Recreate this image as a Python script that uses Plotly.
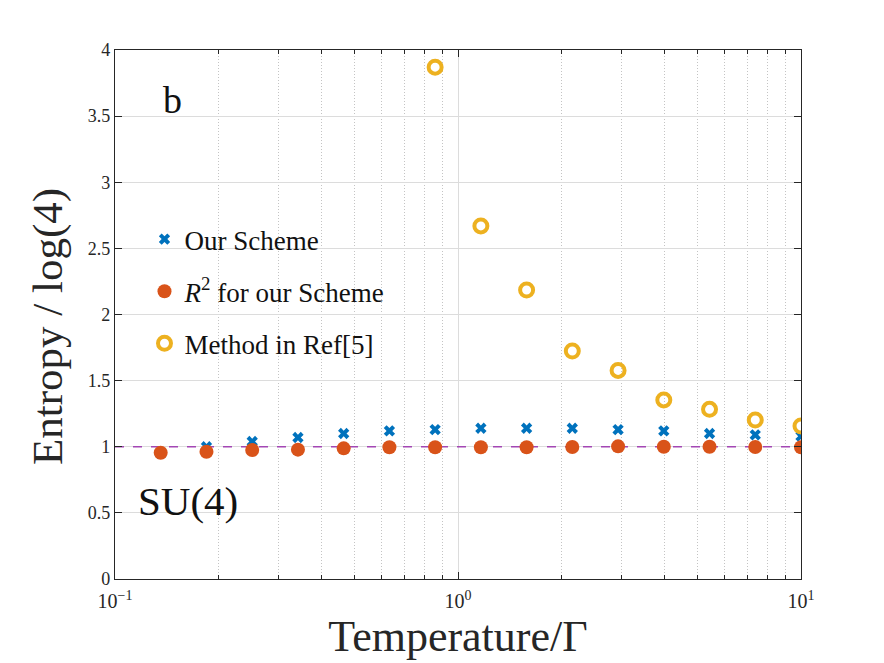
import plotly.graph_objects as go

# ---- data ----
temperature = [0.1359, 0.1848, 0.2512, 0.3415, 0.4642, 0.6310, 0.8577, 1.166,
               1.585, 2.154, 2.929, 3.981, 5.412, 7.356, 10.0]
our_scheme = [0.95, 1.00, 1.04, 1.07, 1.10, 1.12, 1.13, 1.14, 1.14, 1.14,
              1.13, 1.12, 1.10, 1.09, 1.08]
r2_scheme = [0.955, 0.962, 0.975, 0.978, 0.988, 0.996, 0.996, 0.996, 0.996,
             0.998, 1.003, 1.0, 1.0, 0.998, 0.996]
ref5_T = [0.8577, 1.166, 1.585, 2.154, 2.929, 3.981, 5.412, 7.356, 10.0]
ref5_vals = [3.87, 2.67, 2.185, 1.724, 1.577, 1.354, 1.283, 1.202, 1.157]
ref_level_x = [0.1, 10]
ref_level_y = [1, 1]

x_tickvals = [0.1, 1, 10]
x_ticktext = ["10<sup>−1</sup>", "10<sup>0</sup>", "10<sup>1</sup>"]
x_minor = [0.2, 0.3, 0.4, 0.5, 0.6, 0.7, 0.8, 0.9, 2, 3, 4, 5, 6, 7, 8, 9]
y_tickvals = [0, 0.5, 1, 1.5, 2, 2.5, 3, 3.5, 4]
y_ticktext = ["0", "0.5", "1", "1.5", "2", "2.5", "3", "3.5", "4"]

FONT = "Liberation Serif, DejaVu Serif, serif"
AX = "#262626"

fig = go.Figure()
fig.add_trace(go.Scatter(x=ref_level_x, y=ref_level_y, mode="lines",
                         line=dict(color="#A347B4", width=1.3, dash="dash"),
                         showlegend=False, hoverinfo="skip"))
fig.add_trace(go.Scatter(x=temperature, y=our_scheme, mode="markers",
                         name="Our Scheme", legendgroup="a",
                         marker=dict(symbol="x", size=10, color="#0072BD",
                                     line=dict(width=0))))
fig.add_trace(go.Scatter(x=temperature, y=r2_scheme, mode="markers",
                         name="<i>R</i><sup>2</sup> for our Scheme", legendgroup="b",
                         marker=dict(symbol="circle", size=14, color="#D95319")))
fig.add_trace(go.Scatter(x=ref5_T, y=ref5_vals, mode="markers",
                         name="Method in Ref[5]", legendgroup="c",
                         marker=dict(symbol="circle-open", size=13, color="#EDB120",
                                     line=dict(width=4, color="#EDB120"))))

fig.update_layout(
    width=884, height=663,
    paper_bgcolor="white", plot_bgcolor="white",
    margin=dict(l=115, r=83, t=50, b=84),
    font=dict(family=FONT, color=AX),
    legend=dict(x=0.043, y=0.688, xanchor="left", yanchor="top",
                bgcolor="rgba(0,0,0,0)", font=dict(size=27, family=FONT, color="#111"),
                traceorder="grouped", tracegroupgap=14, itemwidth=30),
    annotations=[
        dict(text="b", x=0.084, y=0.905, xref="paper", yref="paper",
             showarrow=False, font=dict(size=38, family=FONT, color="#111"),
             xanchor="center", yanchor="middle"),
        dict(text="SU(4)", x=0.107, y=0.148, xref="paper", yref="paper",
             showarrow=False, font=dict(size=41, family=FONT, color="#111"),
             xanchor="center", yanchor="middle"),
        dict(text="Entropy / log(4)", x=48, y=327, xref="paper", yref="paper",
             showarrow=False, textangle=-90,
             font=dict(size=43, family=FONT, color=AX),
             xanchor="center", yanchor="middle"),
    ],
)
# place y title annotation in pixel-equivalent paper coords
fig.layout.annotations[2].x = (48 - 115) / 686
fig.layout.annotations[2].y = (579 - 327) / 529

fig.update_xaxes(type="log", range=[-1, 1], tickvals=x_tickvals, ticktext=x_ticktext,
                 tickfont=dict(size=20, family=FONT, color=AX),
                 ticks="inside", ticklen=7, tickcolor=AX, ticklabelstandoff=4,
                 showline=True, linecolor=AX, linewidth=1.2, mirror="ticks",
                 showgrid=True, gridcolor="#DCDCDC", gridwidth=1,
                 minor=dict(tickvals=x_minor, ticks="inside", ticklen=4, tickcolor=AX,
                            showgrid=True, gridcolor="#C4C4C4", griddash="1px,2px", gridwidth=1),
                 title=dict(text="Temperature/Γ", font=dict(size=44, family=FONT, color=AX),
                            standoff=4),
                 zeroline=False)
fig.update_yaxes(range=[0, 4], tickvals=y_tickvals, ticktext=y_ticktext,
                 tickfont=dict(size=18, family=FONT, color=AX),
                 ticks="inside", ticklen=7, tickcolor=AX,
                 showline=True, linecolor=AX, linewidth=1.2, mirror="ticks",
                 showgrid=True, gridcolor="#DCDCDC", gridwidth=1,
                 zeroline=False)

fig.write_html("out.html")
